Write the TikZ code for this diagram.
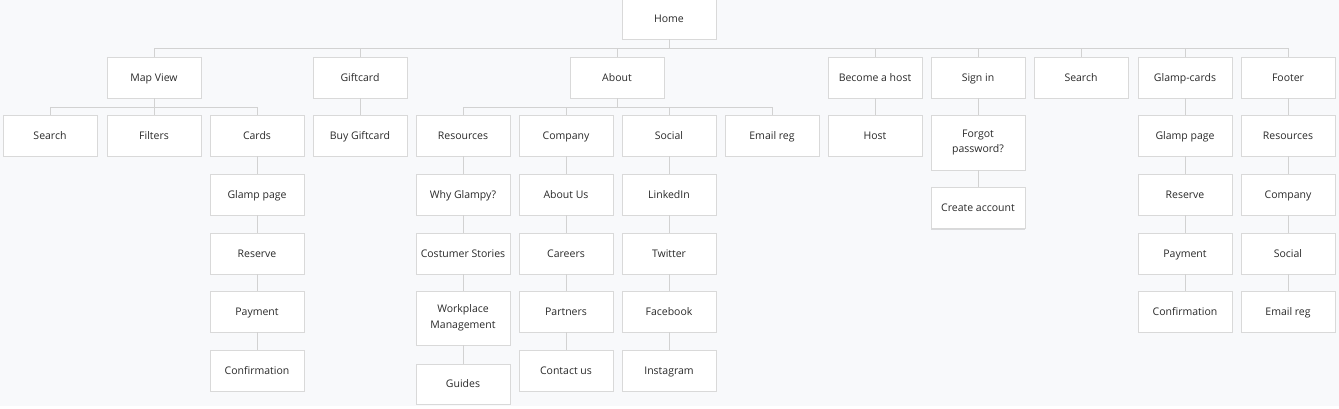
\documentclass[tikz,border=0pt]{standalone}
\usepackage{fontspec}
\setmainfont{Open Sans}
\usepackage{tikz}
\usetikzlibrary{shadows}
\definecolor{canvasbg}{HTML}{F8F9FB}
\definecolor{boxline}{HTML}{D9D9D9}
\definecolor{linkline}{HTML}{D2D2D2}
\definecolor{boxtext}{HTML}{2A2A2A}
\tikzset{
  pagebox/.style={draw=boxline, fill=white, line width=0.8pt,
    minimum width=94pt, minimum height=41pt, inner sep=2pt,
    text=boxtext, align=center, font=\fontsize{10.5}{15.5}\selectfont,
    drop shadow={shadow xshift=0pt, shadow yshift=-1.2pt, opacity=0.12, fill=black}},
  oneline/.style={text height=9pt, text depth=1.2pt},
  link/.style={draw=linkline, line width=0.8pt}
}
\newcommand\pagebox[4]{
  \node[pagebox, oneline] (#1) at (#2,#3) {#4};
}
\newcommand\tallbox[5]{
  \node[pagebox, minimum height=#4pt] (#1) at (#2,#3) {#5};
}

\begin{document}
\begin{tikzpicture}[x=1pt,y=-1pt]
  \useasboundingbox (0,0) rectangle (1339,409);
  \fill[canvasbg] (0,0) rectangle (1339,406);

  \pagebox{home}{669}{18.5}{Home}

  % first level
  \pagebox{mapview}{154}{77.5}{Map View}
  \pagebox{giftcard}{360}{77.5}{Giftcard}
  \pagebox{about}{617}{77.5}{About}
  \pagebox{host}{875}{77.5}{Become a host}
  \pagebox{signin}{978}{77.5}{Sign in}
  \pagebox{search}{1081}{77.5}{Search}
  \pagebox{glampcards}{1185}{77.5}{Glamp-cards}
  \pagebox{footer}{1288}{77.5}{Footer}

  % second level
  \pagebox{mvsearch}{50}{135.5}{Search}
  \pagebox{filters}{154}{135.5}{Filters}
  \pagebox{cards}{257}{135.5}{Cards}
  \pagebox{buygift}{360}{135.5}{Buy Giftcard}
  \pagebox{resources}{463}{135.5}{Resources}
  \pagebox{company}{566}{135.5}{Company}
  \pagebox{social}{669}{135.5}{Social}
  \pagebox{emailreg}{772}{135.5}{Email reg}
  \pagebox{hostpage}{875}{135.5}{Host}
  \tallbox{forgot}{978}{142.5}{55}{Forgot\\password?}
  \pagebox{glamppage}{1185}{135.5}{Glamp page}
  \pagebox{ftresources}{1288}{135.5}{Resources}

  % third level
  \pagebox{cglamp}{257}{194.5}{Glamp page}
  \pagebox{why}{463}{194.5}{Why Glampy?}
  \pagebox{aboutus}{566}{194.5}{About Us}
  \pagebox{linkedin}{669}{194.5}{LinkedIn}
  \pagebox{create}{978}{208}{Create account}
  \pagebox{gcreserve}{1185}{194.5}{Reserve}
  \pagebox{ftcompany}{1288}{194.5}{Company}

  % fourth level
  \pagebox{creserve}{257}{253.5}{Reserve}
  \pagebox{stories}{463}{253.5}{Costumer Stories}
  \pagebox{careers}{566}{253.5}{Careers}
  \pagebox{twitter}{669}{253.5}{Twitter}
  \pagebox{gcpayment}{1185}{253.5}{Payment}
  \pagebox{ftsocial}{1288}{253.5}{Social}

  % fifth level
  \pagebox{cpayment}{257}{311.5}{Payment}
  \tallbox{workplace}{463}{318}{54}{Workplace\\Management}
  \pagebox{partners}{566}{311.5}{Partners}
  \pagebox{facebook}{669}{311.5}{Facebook}
  \pagebox{gcconfirm}{1185}{311.5}{Confirmation}
  \pagebox{ftemail}{1288}{311.5}{Email reg}

  % sixth level
  \pagebox{cconfirm}{257}{370.5}{Confirmation}
  \node[pagebox, oneline, minimum height=40pt] (guides) at (463,384) {Guides};
  \pagebox{contact}{566}{370.5}{Contact us}
  \pagebox{instagram}{669}{370.5}{Instagram}

  % buses
  \coordinate (topbus) at (669,48);
  \coordinate (mapbus) at (154,107);
  \coordinate (aboutbus) at (617,107);
  \draw[link] (home.south) -- (topbus);
  \foreach \n in {mapview,giftcard,about,host,signin,search,glampcards,footer}
    \draw[link] (topbus) -| (\n.north);
  \draw[link] (mapview.south) -- (mapbus);
  \foreach \n in {mvsearch,filters,cards}
    \draw[link] (mapbus) -| (\n.north);
  \draw[link] (about.south) -- (aboutbus);
  \foreach \n in {resources,company,social,emailreg}
    \draw[link] (aboutbus) -| (\n.north);

  % columns
  \foreach \a/\b in {giftcard/buygift,host/hostpage,signin/forgot,forgot/create,
      cards/cglamp,cglamp/creserve,creserve/cpayment,cpayment/cconfirm,
      resources/why,why/stories,stories/workplace,workplace/guides,
      company/aboutus,aboutus/careers,careers/partners,partners/contact,
      social/linkedin,linkedin/twitter,twitter/facebook,facebook/instagram,
      glampcards/glamppage,glamppage/gcreserve,gcreserve/gcpayment,gcpayment/gcconfirm,
      footer/ftresources,ftresources/ftcompany,ftcompany/ftsocial,ftsocial/ftemail}
    \draw[link] (\a.south) -- (\b.north);
\end{tikzpicture}
\end{document}
